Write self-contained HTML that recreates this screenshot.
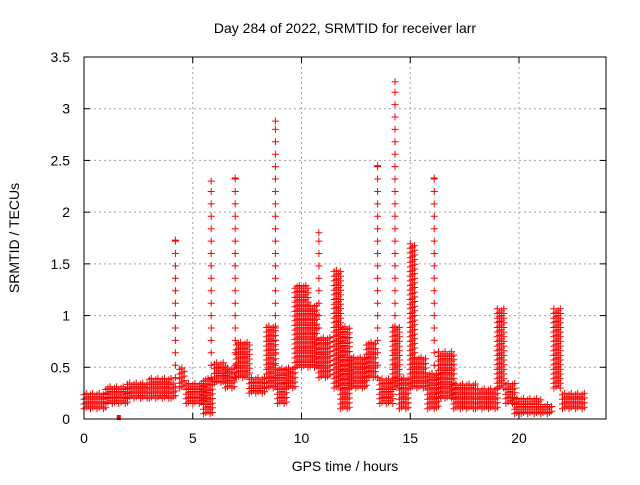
<!DOCTYPE html>
<html><head><meta charset="utf-8"><style>
body{margin:0;background:#fff;}
svg{font-family:"Liberation Sans",sans-serif;}
</style></head><body>
<svg id="c" width="640" height="480">
<text x="345" y="33" font-size="14" text-anchor="middle">Day 284 of 2022, SRMTID for receiver larr</text>
<text x="345" y="471" font-size="14" text-anchor="middle">GPS time / hours</text>
<text transform="translate(19,238) rotate(-90)" font-size="14" text-anchor="middle">SRMTID / TECUs</text>
<g id="grid"></g><g id="marks"></g><g id="axes"></g>
</svg>
<script>
const xTicks=[0,5,10,15,20];
const yTicks=[0,0.5,1,1.5,2,2.5,3,3.5];
const yTickLabels=["0","0.5","1","1.5","2","2.5","3","3.5"];
const segStart=[0,1,2,3,4,4.4,4.7,5.5,6,6.5,7,7.6,8.4,8.9,9.3,9.7,10.3,10.8,11.5,11.8,12.2,13,13.6,14.2,14.5,15,15.3,15.8,16.3,17,18,19,19.4,19.8,21,21.6,22];
const segEnd=[1,2,3,4,4.2,4.6,5.5,5.9,6.5,6.9,7.6,8.3,8.8,9.3,9.7,10.3,10.7,11.3,11.8,12.2,13,13.4,14.2,14.5,14.9,15.2,15.7,16.3,17,18,19,19.3,19.8,21,21.5,21.9,23];
const segLo=[0.1,0.15,0.2,0.2,0.2,0.3,0.15,0.05,0.35,0.3,0.4,0.25,0.3,0.15,0.3,0.5,0.5,0.4,0.3,0.1,0.3,0.4,0.15,0.3,0.1,0.3,0.3,0.1,0.2,0.1,0.1,0.3,0.15,0.05,0.05,0.3,0.1];
const segHi=[0.25,0.32,0.35,0.4,0.35,0.5,0.35,0.4,0.55,0.5,0.75,0.4,0.9,0.5,0.5,1.3,1.1,0.8,1.45,0.9,0.6,0.75,0.4,0.9,0.4,1.7,0.6,0.45,0.65,0.35,0.3,1.07,0.35,0.2,0.15,1.07,0.25];
const spikeT=[4.2,5.85,6.95,8.8,10.8,13.5,14.3,16.1];
const spikeV=[1.73,2.3,2.33,2.88,1.8,2.45,3.26,2.33];
const X0=84,X1=606,Y0=419,Y1=57,XMAX=24,YMAX=3.5;
const sx=v=>X0+(X1-X0)*v/XMAX, sy=v=>Y0-(Y0-Y1)*v/YMAX;
const NS="http://www.w3.org/2000/svg";
function mk(t,a,p){const e=document.createElementNS(NS,t);for(const k in a)e.setAttribute(k,a[k]);p.appendChild(e);return e;}
const grid=document.getElementById('grid'),axes=document.getElementById('axes'),marks=document.getElementById('marks');
xTicks.forEach(t=>{
 if(t>0){const g=mk('line',{x1:sx(t),x2:sx(t),y1:Y0,y2:Y1,stroke:'#a0a0a0','stroke-dasharray':'2,3'},grid);
 }
 const l=mk('text',{x:sx(t),y:Y0+24,'font-size':14,'text-anchor':'middle'},axes);l.textContent=t;
 
 mk('line',{x1:sx(t),x2:sx(t),y1:Y0,y2:Y0-6,stroke:'#000'},axes);
 mk('line',{x1:sx(t),x2:sx(t),y1:Y1,y2:Y1+6,stroke:'#000'},axes);
});
yTicks.forEach((t,i)=>{
 if(t>0&&t<YMAX){const g=mk('line',{x1:X0,x2:X1,y1:sy(t),y2:sy(t),stroke:'#a0a0a0','stroke-dasharray':'2,3'},grid);
 }
 const l=mk('text',{x:X0-14,y:sy(t)+5,'font-size':14,'text-anchor':'end'},axes);l.textContent=yTickLabels[i];
 
 mk('line',{x1:X0,x2:X0+6,y1:sy(t),y2:sy(t),stroke:'#000'},axes);
 mk('line',{x1:X1,x2:X1-6,y1:sy(t),y2:sy(t),stroke:'#000'},axes);
});
const fr=mk('rect',{x:X0,y:Y1,width:X1-X0,height:Y0-Y1,fill:'none',stroke:'#000'},axes);

let d='';
function plus(t,v){const x=sx(t),y=sy(v);d+=`M${(x-3.5).toFixed(1)} ${y.toFixed(1)}h7M${x.toFixed(1)} ${(y-3.5).toFixed(1)}v7`;}
segStart.forEach((s,i)=>{
 let k=0;
 for(let t=s;t<=segEnd[i]+1e-9;t+=0.1){
  const off=(k%3)*0.013;k++;
  for(let v=segLo[i]+off;v<=segHi[i]+1e-9;v+=0.045)plus(t,v);
 }
});
spikeT.forEach((t,i)=>{for(let v=0.4;v<spikeV[i];v+=0.12)plus(t,v);plus(t,spikeV[i]);});
const p=mk('path',{d:d,stroke:'#ff0000','stroke-width':1,fill:'none'},marks);

const sq=mk('rect',{x:sx(1.6)-2,y:Y0-4,width:4,height:5,fill:'#ff0000'},marks);

</script>
</body></html>
